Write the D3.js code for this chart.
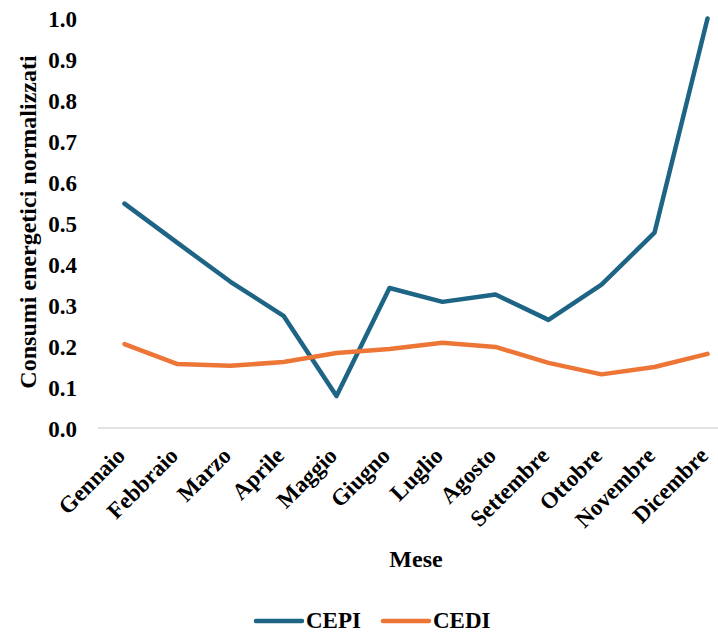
<!DOCTYPE html>
<html>
<head>
<meta charset="utf-8">
<script src="https://cdn.jsdelivr.net/npm/d3@7"></script>
<style>
  html, body { margin: 0; padding: 0; background: #fff; }
  svg { display: block; }
  text { font-family: "Liberation Serif", "Times New Roman", serif; font-weight: bold; fill: #000; }
</style>
</head>
<body>
<script>
const months = ["Gennaio","Febbraio","Marzo","Aprile","Maggio","Giugno","Luglio","Agosto","Settembre","Ottobre","Novembre","Dicembre"];
const cepi = [0.548, 0.452, 0.357, 0.274, 0.078, 0.342, 0.308, 0.326, 0.264, 0.350, 0.477, 1.0];
const cedi = [0.205, 0.156, 0.152, 0.161, 0.183, 0.193, 0.208, 0.198, 0.159, 0.131, 0.149, 0.181];
const yTicks = [0, 0.1, 0.2, 0.3, 0.4, 0.5, 0.6, 0.7, 0.8, 0.9, 1.0];
const seriesNames = ["CEPI", "CEDI"];
const colors = ["#1d6485", "#ed7536"];

const W = 718, H = 632;
const svg = d3.select("body").append("svg").attr("width", W).attr("height", H);

const x = d3.scaleBand().domain(months).range([98, 734]);
const y = d3.scaleLinear().domain([0, 1]).range([428, 18.5]);

// Y tick labels
const yAxis = d3.axisLeft(y).tickValues(yTicks).tickFormat(d3.format(".1f")).tickSize(0).tickPadding(0);
const gy = svg.append("g").attr("transform", "translate(77,0)").call(yAxis);
gy.select(".domain").remove();
gy.selectAll("text").attr("font-size", 23).attr("font-family", null).attr("dy", "0.36em").attr("x", 0);

// X axis line
const xAxis = d3.axisBottom(x).tickSize(0).tickFormat("");
const gx = svg.append("g").attr("transform", "translate(0,428)").call(xAxis);
gx.select(".domain").attr("stroke", "#d9d9d9").attr("stroke-width", 1.5).attr("d", "M98,0H718");

// X labels rotated
svg.append("g").selectAll("text").data(months).join("text")
  .attr("transform", d => `translate(${x(d) + x.bandwidth()/2 + 2},457) rotate(-45)`)
  .attr("text-anchor", "end")
  .attr("font-size", 23)
  .text(d => d);

// Lines
const line = d3.line().x((d, i) => x(months[i]) + x.bandwidth()/2).y(d => y(d));
[cepi, cedi].forEach((s, k) => {
  svg.append("path").datum(s)
    .attr("fill", "none")
    .attr("stroke", colors[k])
    .attr("stroke-width", 4.5)
    .attr("stroke-linejoin", "round")
    .attr("stroke-linecap", "round")
    .attr("d", line);
});

// Axis titles
svg.append("text").attr("transform", "translate(36,222) rotate(-90)")
  .attr("text-anchor", "middle").attr("font-size", 24).text("Consumi energetici normalizzati");
svg.append("text").attr("x", 416).attr("y", 567)
  .attr("text-anchor", "middle").attr("font-size", 24).text("Mese");

// Legend
const legX = [256, 383];
seriesNames.forEach((n, k) => {
  svg.append("line").attr("x1", legX[k]).attr("x2", legX[k] + 46).attr("y1", 621).attr("y2", 621)
    .attr("stroke", colors[k]).attr("stroke-width", 4.5).attr("stroke-linecap", "round");
  svg.append("text").attr("x", legX[k] + 50).attr("y", 628).attr("font-size", 23).text(n);
});
</script>
</body>
</html>
